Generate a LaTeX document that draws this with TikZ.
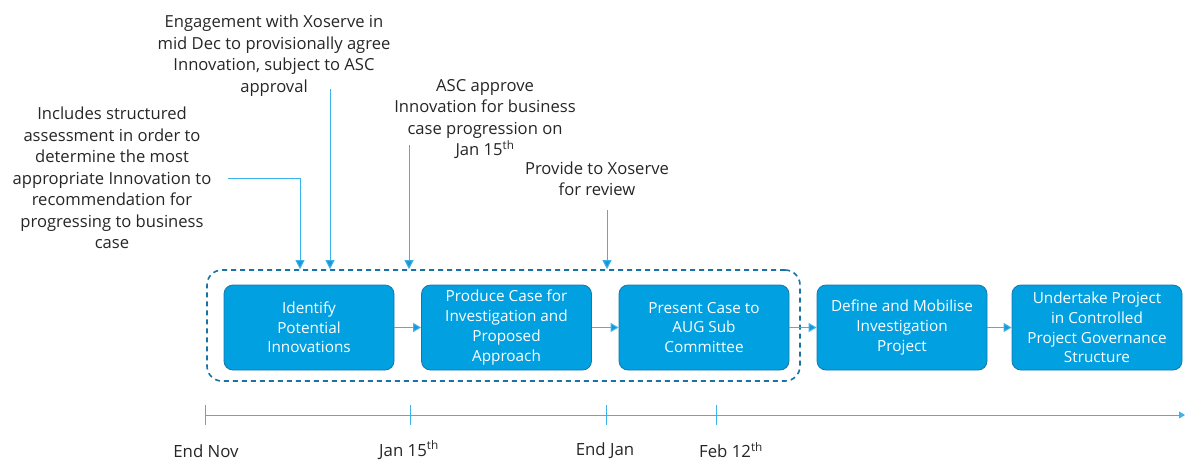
\documentclass[tikz,border=0pt]{standalone}
\usepackage{fontspec}
\setmainfont{Open Sans}
\usetikzlibrary{arrows.meta}
\definecolor{boxfill}{RGB}{0,160,225}
\definecolor{boxedge}{RGB}{20,120,170}
\definecolor{lineblue}{RGB}{60,180,235}
\definecolor{headblue}{RGB}{25,150,215}
\definecolor{dashblue}{RGB}{25,115,165}
\definecolor{txt}{RGB}{38,38,38}
\tikzset{
  stepbox/.style={draw=boxedge, line width=0.8pt, fill=boxfill, rounded corners=9pt,
    minimum width=170pt, minimum height=85pt, align=center, text=white,
    font=\fontsize{15.3}{19.7}\selectfont, inner sep=1pt},
  grpbox/.style={draw=dashblue, line width=1.6pt, dash pattern=on 5pt off 4pt, rounded corners=15pt,
    minimum width=593pt, minimum height=111pt},
  note/.style={align=center, text=txt, font=\fontsize{16.6}{21.5}\selectfont, inner sep=0pt},
  flow/.style={draw=lineblue, line width=1pt, -{Triangle[width=9pt,length=8pt,fill=headblue]}},
  ann/.style={draw=lineblue, line width=1pt, -{Triangle[width=9pt,length=9pt,fill=headblue]}},
  tl/.style={draw=lineblue, line width=0.9pt},
  tick/.style={draw=lineblue, line width=0.7pt},
  date/.style={text=txt, font=\fontsize{16.8}{20}\selectfont, inner sep=0pt}
}
\begin{document}
\begin{tikzpicture}[x=1pt,y=-1pt]
\useasboundingbox (0,0) rectangle (1185,461);
% group box
\node[grpbox] (grp) at (503.5,325.5) {};
% process boxes
\node[stepbox] (b1) at (309,327.5) {Identify\\Potential\\Innovations};
\node[stepbox] (b2) at (506.5,327.5) {Produce Case for\\Investigation and\\Proposed\\Approach};
\node[stepbox] (b3) at (704,327.5) {Present Case to\\AUG Sub\\Committee};
\node[stepbox] (b4) at (902,327.5) {Define and Mobilise\\Investigation\\Project};
\node[stepbox] (b5) at (1097,327.5) {Undertake Project\\in Controlled\\Project Governance\\Structure};
\draw[flow] (b1) -- (b2);
\draw[flow] (b2) -- (b3);
\draw[flow] (b3) -- (b4);
\draw[flow] (b4) -- (b5);
% annotations
\node[note] (nA) at (112,178) {Includes structured\\assessment in order to\\determine the most\\appropriate Innovation to\\recommendation for\\progressing to business\\case};
\node[note] (nB) at (274,55.5) {Engagement with Xoserve in\\mid Dec to provisionally agree\\Innovation, subject to ASC\\approval};
\node[note] (nC) at (485,119) {ASC approve\\Innovation for business\\case progression on\\Jan 15\textsuperscript{th}};
\node[note] (nD) at (597,179) {Provide to Xoserve\\for review};
\coordinate (sA) at (228,178);
\coordinate (kA) at (300,178);
\coordinate (sB) at (330,89);
\coordinate (sC) at (409,145);
\coordinate (sD) at (607,210);
\draw[ann] (sA) -- (kA) -- (kA |- grp.north);
\draw[ann] (sB) -- (sB |- grp.north);
\draw[ann] (sC) -- (sC |- grp.north);
\draw[ann] (sD) -- (sD |- grp.north);
% timeline
\coordinate (t0) at (205,415);
\coordinate (t1) at (410,415);
\coordinate (t2) at (606,415);
\coordinate (t3) at (716,415);
\coordinate (tend) at (1185,415);
\draw[tl, -{Triangle[width=7pt,length=6pt,fill=lineblue]}] (t0) -- (tend);
\foreach \t in {t0,t1,t2,t3} \draw[tick] ([yshift=-10pt]\t) -- ([yshift=10pt]\t);
\node[date] (d0) at (206,451) {End Nov};
\node[date] (d1) at (409,450) {Jan 15\textsuperscript{th}};
\node[date] (d2) at (605,451) {End Jan};
\node[date] (d3) at (731,450) {Feb 12\textsuperscript{th}};
\end{tikzpicture}
\end{document}
